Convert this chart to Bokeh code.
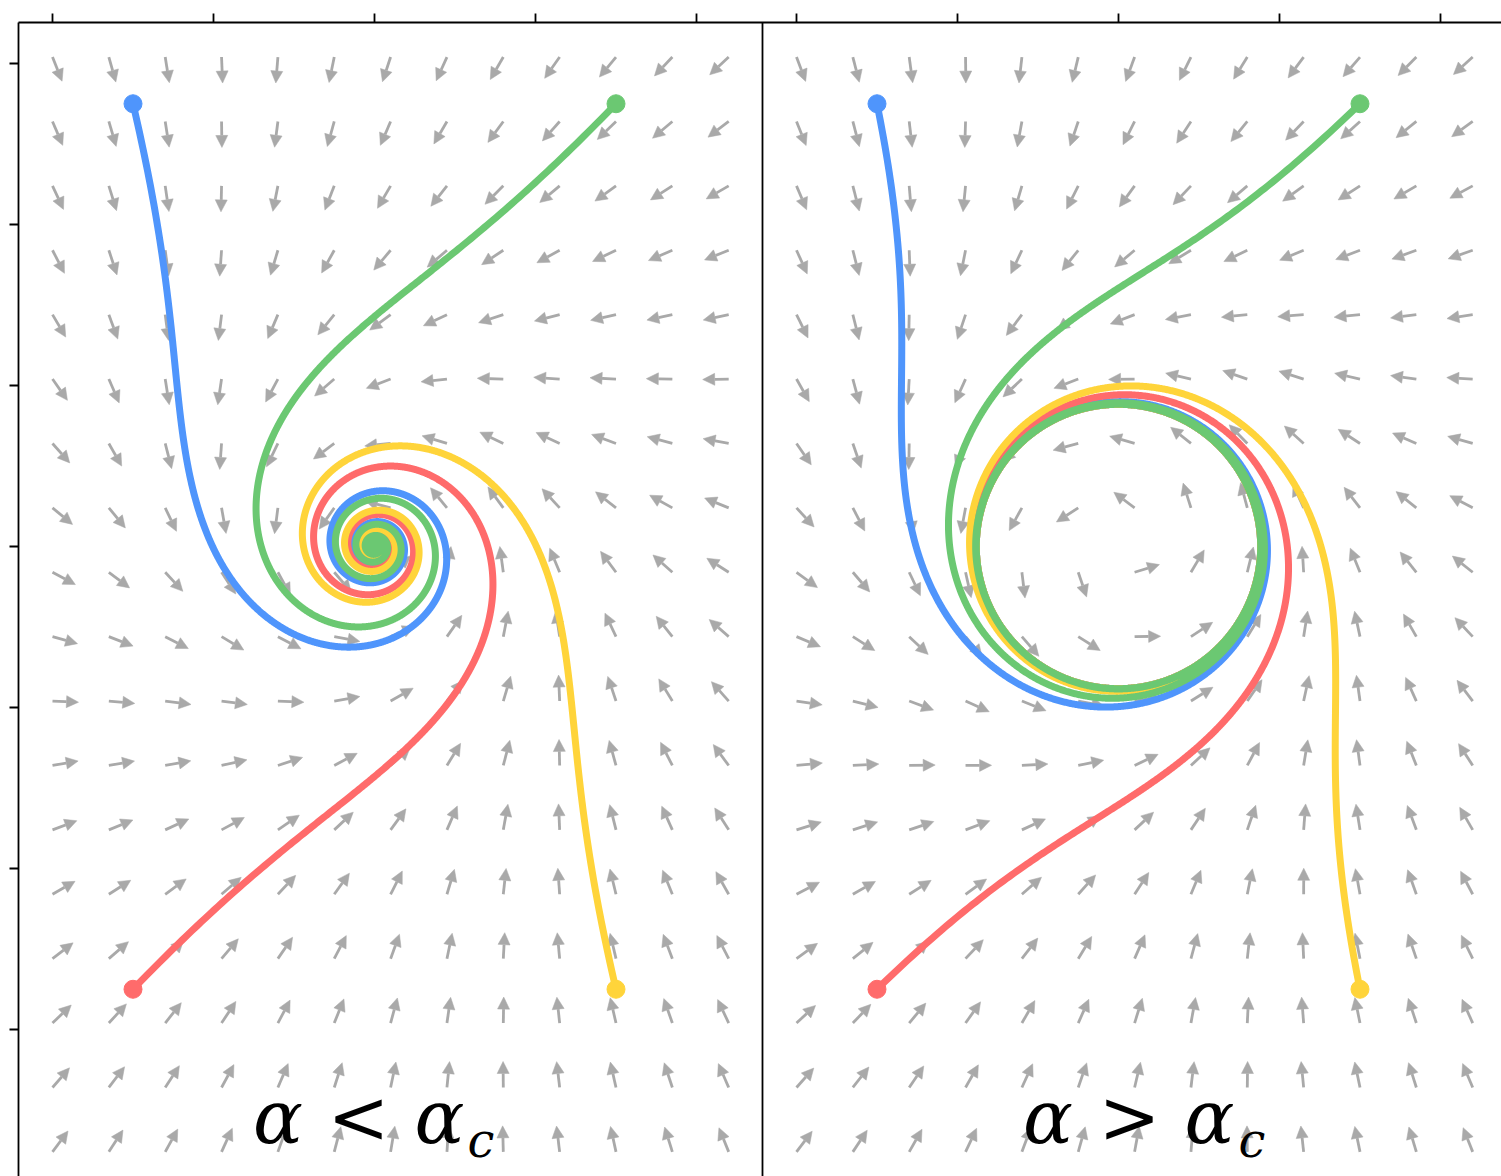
import numpy as np
from bokeh.plotting import figure
from bokeh.models import Arrow, NormalHead, ColumnDataSource, Range1d
from bokeh.embed import file_html
from bokeh.resources import INLINE
from bokeh.core.properties import value

# ---- model / data -------------------------------------------------------
OMEGA = 2.8                       # rotation rate of the normal form
ALPHAS = [-0.3, 0.78]             # left panel: alpha < alpha_c ; right: alpha > alpha_c
PANEL_OFFSET = [0.0, 4.6211]      # x shift of each panel inside the single canvas

START_X = [-1.5, 1.5, -1.5, 1.5]          # blue, green, red, yellow
START_Y = [2.75, 2.75, -2.75, -2.75]
COLORS = ["#4f95fc", "#6bc872", "#ff6b6b", "#ffd43a"]
DRAW_ORDER = [0, 2, 3, 1]

GRID_X = [-2.0, -1.65, -1.3, -0.95, -0.6, -0.25, 0.1, 0.45, 0.8, 1.15, 1.5, 1.85, 2.2]
GRID_Y = [3.04, 2.64, 2.24, 1.84, 1.44, 1.04, 0.64, 0.24, -0.16, -0.56, -0.96,
          -1.36, -1.76, -2.16, -2.56, -2.96, -3.36, -3.76]

X_TICKS = [-2, -1, 0, 1, 2]
Y_TICKS = [-3, -2, -1, 0, 1, 2, 3]

LABEL_TEXT = [["α", "<", "α", "c"], ["α", ">", "α", "c"]]
LABEL_X = [[-0.599, -0.099, 0.404, 0.661], [-0.438, 0.068, 0.565, 0.829]]

# panel frame (data units)
FRAME_LEFT = -2.2112
FRAME_TOP = 3.2547
PANEL_EDGE = 2.4099
TICK_LEN = 9 / 161.0


def field(x, y, a):
    r2 = x * x + y * y
    return a * x - OMEGA * y - x * r2, OMEGA * x + a * y - y * r2


def integrate(x0, y0, a, t_end=16.0, dt=0.002):
    xs, ys = [x0], [y0]
    x, y = x0, y0
    for _ in range(int(t_end / dt)):
        k1 = field(x, y, a)
        k2 = field(x + 0.5 * dt * k1[0], y + 0.5 * dt * k1[1], a)
        k3 = field(x + 0.5 * dt * k2[0], y + 0.5 * dt * k2[1], a)
        k4 = field(x + dt * k3[0], y + dt * k3[1], a)
        x += dt / 6 * (k1[0] + 2 * k2[0] + 2 * k3[0] + k4[0])
        y += dt / 6 * (k1[1] + 2 * k2[1] + 2 * k3[1] + k4[1])
        xs.append(x)
        ys.append(y)
    return np.array(xs), np.array(ys)


# ---- figure ------------------------------------------------------------
x_lo, x_hi = -374 / 161.0, 1127 / 161.0
y_lo, y_hi = -630 / 161.0, 546 / 161.0
p = figure(width=1501, height=1176, x_range=Range1d(x_lo, x_hi), y_range=Range1d(y_lo, y_hi),
           output_backend="svg", toolbar_location=None,
           x_axis_location=None, y_axis_location=None,
           min_border_left=0, min_border_top=0, min_border_right=0, min_border_bottom=0)
p.grid.visible = False
p.outline_line_color = None
p.background_fill_color = "white"

# frame lines and ticks
LW = 1.8
p.segment(x0=[FRAME_LEFT, FRAME_LEFT, PANEL_EDGE], y0=[FRAME_TOP, y_lo, y_lo],
          x1=[x_hi, FRAME_LEFT, PANEL_EDGE], y1=[FRAME_TOP, FRAME_TOP, FRAME_TOP],
          line_color="black", line_width=LW)
tx = []
for off in PANEL_OFFSET:
    tx += [t + off for t in X_TICKS]
p.segment(x0=tx, y0=[FRAME_TOP] * len(tx), x1=tx, y1=[FRAME_TOP + TICK_LEN] * len(tx),
          line_color="black", line_width=LW)
p.segment(x0=[FRAME_LEFT - TICK_LEN] * len(Y_TICKS), y0=Y_TICKS,
          x1=[FRAME_LEFT] * len(Y_TICKS), y1=Y_TICKS, line_color="black", line_width=LW)

# vector field (normalised quiver)
ARROW_LEN = 0.1615
GREY = "#a9a9a9"
for a, off in zip(ALPHAS, PANEL_OFFSET):
    gx, gy = np.meshgrid(np.array(GRID_X), np.array(GRID_Y))
    u, v = field(gx, gy, a)
    n = np.hypot(u, v)
    x0 = gx.ravel() + off
    y0 = gy.ravel()
    x1 = x0 + ARROW_LEN * (u / n).ravel()
    y1 = y0 + ARROW_LEN * (v / n).ravel()
    src = ColumnDataSource(dict(x0=x0, y0=y0, x1=x1, y1=y1))
    p.add_layout(Arrow(source=src, x_start="x0", y_start="y0", x_end="x1", y_end="y1",
                       line_color=GREY, line_width=2.8, level="underlay",
                       end=NormalHead(size=12, fill_color=GREY, line_color=GREY, line_width=0.5)))

# trajectories
for a, off in zip(ALPHAS, PANEL_OFFSET):
    for k in DRAW_ORDER:
        xs, ys = integrate(START_X[k], START_Y[k], a)
        p.line(xs + off, ys, line_color=COLORS[k], line_width=7,
               line_cap="round", line_join="round")
    for k in range(4):
        p.scatter([START_X[k] + off], [START_Y[k]], size=18, color=COLORS[k])

# labels
BASE_Y = (546 - 1116) / 161.0
SUB_Y = (546 - 1139) / 161.0
FONT = value("DejaVu Serif")
for texts, xs, off in zip(LABEL_TEXT, LABEL_X, PANEL_OFFSET):
    p.text(x=[xs[0] + off, xs[2] + off], y=[BASE_Y, BASE_Y], text=[texts[0], texts[2]],
           text_font=FONT, text_font_style="italic",
           text_font_size="74px", text_align="center", text_baseline="alphabetic",
           text_color="black")
    p.text(x=[xs[1] + off], y=[BASE_Y], text=[texts[1]],
           text_font=FONT, text_font_size="74px",
           text_align="center", text_baseline="alphabetic", text_color="black")
    p.text(x=[xs[3] + off], y=[SUB_Y], text=[texts[3]],
           text_font=FONT, text_font_style="italic",
           text_font_size="48px", text_align="center", text_baseline="alphabetic",
           text_color="black")

open("out.html", "w").write(file_html(p, INLINE))
